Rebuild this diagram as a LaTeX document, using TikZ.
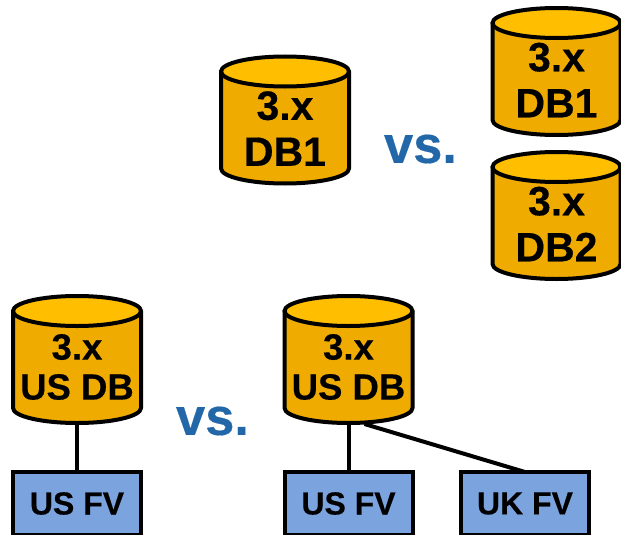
\documentclass[tikz,border=0pt]{standalone}
\usepackage{fontspec}
\setmainfont[BoldFeatures={FakeBold=0.35}]{Liberation Sans}
\usetikzlibrary{calc}
\definecolor{dbbody}{HTML}{F0AB00}
\definecolor{dbtop}{HTML}{FFBF00}
\definecolor{fvblue}{HTML}{7BA3DE}
\definecolor{vsblue}{HTML}{2268A8}
\tikzset{
  dbframe/.style={minimum width=128pt,minimum height=127pt,inner sep=0pt,outer sep=0pt},
  dboutline/.style={draw=black,line width=4pt,line join=round},
  bigdb/.style={align=center,font=\bfseries\fontsize{41}{46}\selectfont,inner sep=0pt},
  smalldb/.style={align=center,font=\bfseries\fontsize{36.5}{40}\selectfont,inner sep=0pt},
  fvbox/.style={draw=black,fill=fvblue,line width=4pt,minimum width=128pt,minimum height=63pt,
    inner sep=0pt,outer sep=0pt,font=\bfseries\fontsize{32}{36}\selectfont},
  vslabel/.style={text=vsblue,inner sep=0pt,font=\bfseries\fontsize{52.5}{56}\selectfont},
  link/.style={draw=black,line width=4pt}
}
\newcommand{\dbshape}[1]{%
  \path[dboutline,fill=dbbody]
    ($(#1.north west)+(0,15)$) -- ($(#1.south west)+(0,-15)$)
    arc[start angle=180,end angle=360,x radius=64pt,y radius=15pt]
    -- ($(#1.north east)+(0,15)$) -- cycle;
  \path[dboutline,fill=dbtop] ($(#1.north)+(0,15)$) ellipse[x radius=64pt,y radius=15pt];
}
\begin{document}
\begin{tikzpicture}[x=1pt,y=-1pt]
\clip (0,0) rectangle (621,535);
\fill[white] (0,0) rectangle (621,535);
% frames of the cylinders
\node[dbframe] (a) at (285,120) {};
\node[dbframe] (b) at (556.5,71.5) {};
\node[dbframe] (c) at (556.5,215.5) {};
\node[dbframe] (d) at (77,359.5) {};
\node[dbframe] (e) at (348.5,359.5) {};
% boxes and connectors
\node[fvbox] (f) at (77,503.5) {US FV};
\node[fvbox] (g) at (348.5,503.5) {US FV};
\node[fvbox] (h) at (525,503.5) {UK FV};
\coordinate (eb) at ($(e.south)+(16,1)$);
\draw[link] (d.south) -- (f.north);
\draw[link] (e.south) -- (g.north);
\draw[link] (eb) -- (h.north);
% cylinders
\dbshape{a}\dbshape{b}\dbshape{c}\dbshape{d}\dbshape{e}
% labels
\node[bigdb] (at) at (285,128.5) {3.x\\DB1};
\node[bigdb] (bt) at (556.5,80) {3.x\\DB1};
\node[bigdb] (ct) at (556.5,224) {3.x\\DB2};
\node[smalldb] (dt) at (77,367) {3.x\\US DB};
\node[smalldb] (et) at (348.5,367) {3.x\\US DB};
\node[vslabel] (v1) at (420.5,149) {vs.};
\node[vslabel] (v2) at (212.5,421) {vs.};
\end{tikzpicture}
\end{document}
